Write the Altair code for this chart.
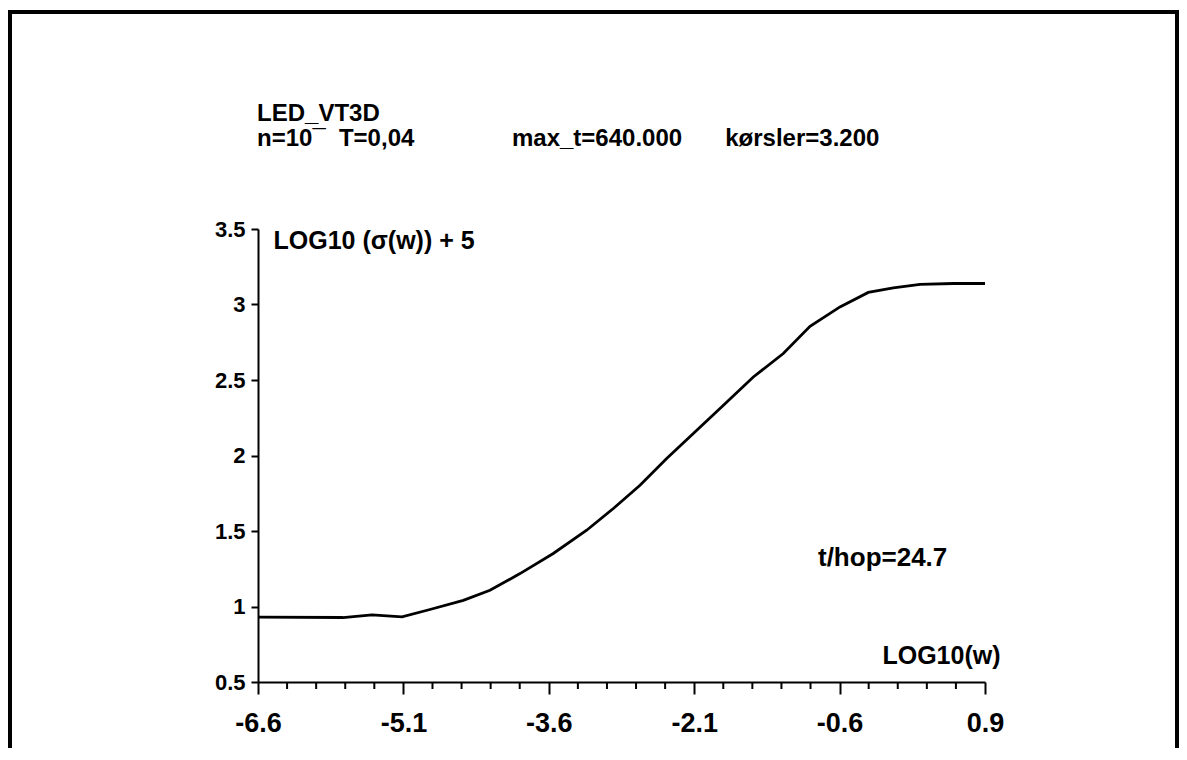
import altair as alt
import pandas as pd

# ---- data ----
log_w = [-6.6, -5.723, -5.424, -5.114, -4.826, -4.482, -4.207, -3.897, -3.554,
         -3.209, -2.934, -2.659, -2.384, -2.109, -1.834, -1.490, -1.181, -0.905,
         -0.596, -0.304, -0.046, 0.230, 0.573, 0.900]
log_sigma = [0.929, 0.927, 0.944, 0.931, 0.980, 1.041, 1.107, 1.218, 1.351,
             1.505, 1.649, 1.803, 1.980, 2.146, 2.311, 2.520, 2.675, 2.856,
             2.984, 3.080, 3.110, 3.133, 3.139, 3.139]

x_major = [-6.6, -5.1, -3.6, -2.1, -0.6, 0.9]
x_minor = [-6.3, -6.0, -5.7, -5.4, -4.8, -4.5, -4.2, -3.9, -3.3, -3.0, -2.7,
           -2.4, -1.8, -1.5, -1.2, -0.9, -0.3, 0.0, 0.3, 0.6]
y_ticks = [0.5, 1, 1.5, 2, 2.5, 3, 3.5]

head_text = ["LED_VT3D", "n=10\u00af", "T=0,04", "max_t=640.000", "k\u00f8rsler=3.200"]
head_x = [-6.61, -6.61, -5.765, -3.98, -1.78]
head_y = [4.26, 4.095, 4.095, 4.095, 4.095]

note_text = ["t/hop=24.7"]
note_x = [-0.823]
note_y = [1.319]

x_title = "LOG10(w)"
y_title = "LOG10 (\u03c3(w)) + 5"

FONT = "Liberation Sans"
W, H = 727, 453

xs = alt.Scale(domain=[-6.6, 0.9], nice=False, zero=False)
ys = alt.Scale(domain=[0.5, 3.5], nice=False, zero=False)

x_axis = alt.Axis(
    values=x_major,
    labelExpr="datum.value < 0 ? '-' + format(-datum.value, '.1f') : format(datum.value, '.1f')",
    title=x_title, titleAngle=0, titleAlign="right", titleBaseline="middle",
    titleX=742, titleY=-27, titleFont=FONT, titleFontSize=25, titleFontWeight="bold",
    titleColor="black", labelFont=FONT, labelFontSize=27, labelFontWeight="bold",
    labelColor="black", labelPadding=16, labelFlush=False, tickSize=12, tickWidth=2,
    tickColor="black", domainColor="black", domainWidth=2, grid=False)
y_axis = alt.Axis(
    values=y_ticks, format="~g",
    title=y_title, titleAngle=0, titleAlign="left", titleBaseline="middle",
    titleX=15, titleY=11, titleFont=FONT, titleFontSize=25, titleFontWeight="bold",
    titleColor="black", labelFont=FONT, labelFontSize=22, labelFontWeight="bold",
    labelColor="black", labelPadding=6, labelFlush=False, tickSize=7, tickWidth=2,
    tickColor="black", domainColor="black", domainWidth=2, grid=False)

curve = pd.DataFrame({"w": log_w, "s": log_sigma})
minor = pd.DataFrame({"w": x_minor})
heads = pd.DataFrame({"t": head_text, "w": head_x, "s": head_y})
notes = pd.DataFrame({"t": note_text, "w": note_x, "s": note_y})
one = pd.DataFrame({"k": [0]})

line = alt.Chart(curve).mark_line(color="black", strokeWidth=2.8).encode(
    x=alt.X("w:Q", scale=xs, axis=x_axis),
    y=alt.Y("s:Q", scale=ys, axis=y_axis),
)

minor_ticks = alt.Chart(minor).mark_rule(color="black", strokeWidth=2).encode(
    x=alt.X("w:Q", scale=xs, axis=x_axis),
    y=alt.value(H), y2=alt.value(H + 7),
)

header = alt.Chart(heads).mark_text(
    align="left", baseline="middle", font=FONT, fontSize=24, fontWeight="bold", color="black"
).encode(
    x=alt.X("w:Q", scale=xs, axis=x_axis),
    y=alt.Y("s:Q", scale=ys, axis=y_axis),
    text="t:N",
)

note = alt.Chart(notes).mark_text(
    align="left", baseline="middle", font=FONT, fontSize=26, fontWeight="bold", color="black"
).encode(
    x=alt.X("w:Q", scale=xs, axis=x_axis),
    y=alt.Y("s:Q", scale=ys, axis=y_axis),
    text="t:N",
)

frame_top = alt.Chart(one).mark_rule(color="black", strokeWidth=4).encode(
    x=alt.value(-250), x2=alt.value(921), y=alt.value(-217))
frame_left = alt.Chart(one).mark_rule(color="black", strokeWidth=4).encode(
    x=alt.value(-248), y=alt.value(-219), y2=alt.value(520))
frame_right = alt.Chart(one).mark_rule(color="black", strokeWidth=4).encode(
    x=alt.value(919), y=alt.value(-219), y2=alt.value(520))

chart = alt.layer(line, minor_ticks, header, note, frame_top, frame_left, frame_right).properties(
    width=W, height=H,
    autosize=alt.AutoSizeParams(type="none"),
    padding={"left": 250, "top": 221, "right": 194, "bottom": 66},
    background="white",
).configure_view(stroke=None)

chart.save("out.html", embed_options={"renderer": "svg", "actions": False})
